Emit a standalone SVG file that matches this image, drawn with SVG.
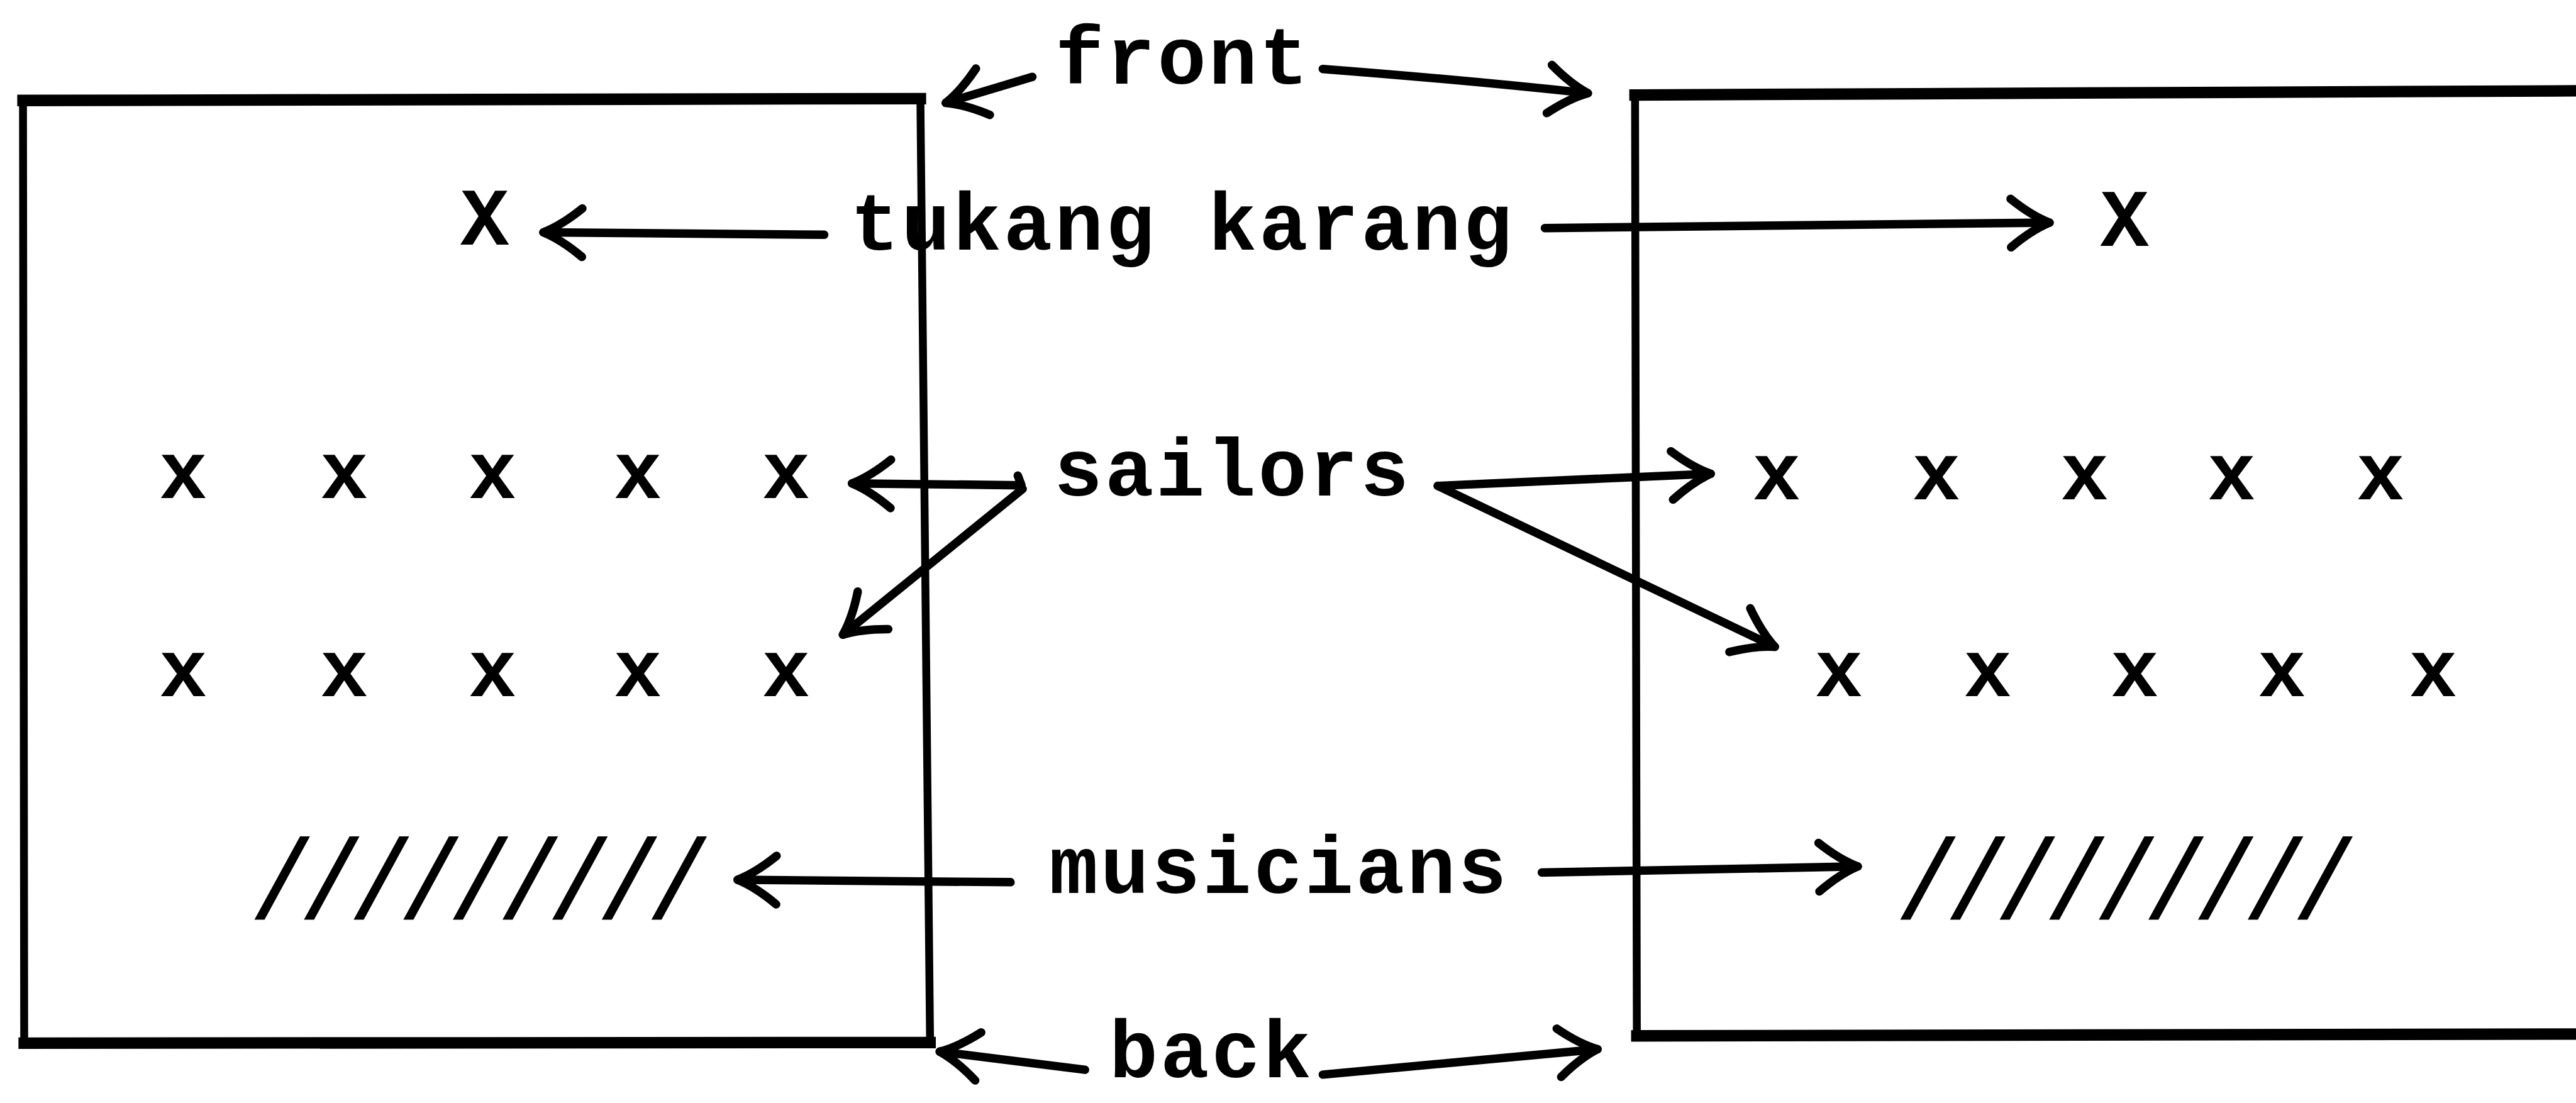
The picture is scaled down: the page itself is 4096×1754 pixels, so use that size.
<svg xmlns="http://www.w3.org/2000/svg" width="4096" height="1754" viewBox="0 0 4096 1754">
  <defs>
    <style>
      .wall{fill:none;stroke:#000;stroke-width:13;stroke-linecap:square;stroke-linejoin:miter}
      .rail{fill:none;stroke:#000;stroke-width:19;stroke-linecap:square}
      .arrow{fill:none;stroke:#000;stroke-width:14;stroke-linecap:round;stroke-linejoin:round;marker-end:url(#head)}
      .lbl{font-family:"Liberation Mono","DejaVu Sans Mono",monospace;font-size:134px;font-weight:bold;fill:#000;text-anchor:middle;letter-spacing:4px}
      .mark{font-family:"Liberation Mono","DejaVu Sans Mono",monospace;font-size:134px;font-weight:bold;fill:#000;text-anchor:middle}
      .hatch{font-family:"Liberation Mono","DejaVu Sans Mono",monospace;font-size:188px;fill:#000;text-anchor:middle;letter-spacing:-30.8px}
    </style>
    <marker id="head" markerUnits="userSpaceOnUse" markerWidth="200" markerHeight="200" refX="0" refY="0" orient="auto" overflow="visible">
      <path d="M-64 -40 Q-30 -12 0 0 Q-30 12 -64 40" fill="none" stroke="#000" stroke-width="14" stroke-linecap="round" stroke-linejoin="round"/>
    </marker>
  </defs>
  <rect x="0" y="0" width="4096" height="1754" fill="#fff"/>
  <g transform="scale(0.96218)">
    <!-- left boat / stage -->
    <g id="box-left">
      <path class="wall" d="M38 166 L1521 163 L1537 1723 L40 1724 Z"/>
      <path class="rail" d="M38 166 L1521 163 M1537 1723 L40 1724"/>
    </g>
    <!-- right boat / stage, open on the right -->
    <g id="box-right">
      <path class="wall" d="M4270 150 L2702 157 L2705 1712 L4270 1709"/>
      <path class="rail" d="M4270 150 L2702 157 M2705 1712 L4270 1709"/>
    </g>

    <g id="label-front"><text class="lbl" x="1955" y="138">front</text></g>
    <g id="label-tukang"><text class="lbl" x="1954" y="413">tukang karang</text></g>
    <g id="label-sailors"><text class="lbl" x="2037" y="819">sailors</text></g>
    <g id="label-musicians"><text class="lbl" x="2114" y="1476">musicians</text></g>
    <g id="label-back"><text class="lbl" x="2002" y="1780">back</text></g>

    <g id="tukang-left"><text class="mark" x="801" y="404">X</text></g>
    <g id="tukang-right"><text class="mark" x="3511" y="406">X</text></g>

    <g id="sailors-left">
      <text class="mark" x="303" y="823">x</text>
      <text class="mark" x="569" y="823">x</text>
      <text class="mark" x="814" y="823">x</text>
      <text class="mark" x="1054" y="823">x</text>
      <text class="mark" x="1299" y="823">x</text>
      <text class="mark" x="303" y="1151">x</text>
      <text class="mark" x="569" y="1151">x</text>
      <text class="mark" x="814" y="1151">x</text>
      <text class="mark" x="1054" y="1151">x</text>
      <text class="mark" x="1299" y="1151">x</text>
    </g>
    <g id="sailors-right">
      <text class="mark" x="2936" y="825">x</text>
      <text class="mark" x="3200" y="825">x</text>
      <text class="mark" x="3445" y="825">x</text>
      <text class="mark" x="3688" y="825">x</text>
      <text class="mark" x="3934" y="825">x</text>
      <text class="mark" x="3039" y="1151">x</text>
      <text class="mark" x="3285" y="1151">x</text>
      <text class="mark" x="3528" y="1151">x</text>
      <text class="mark" x="3771" y="1151">x</text>
      <text class="mark" x="4021" y="1151">x</text>
    </g>

    <g id="musicians-left"><text class="hatch" x="779" y="1518">/////////</text></g>
    <g id="musicians-right"><text class="hatch" x="3499" y="1518">/////////</text></g>

    <g id="connectors">
      <path class="arrow" d="M1706 127 L1563 170"/>
      <path class="arrow" d="M2186 114 Q2420 132 2624 154"/>
      <path class="arrow" d="M1362 388 L898 384"/>
      <path class="arrow" d="M2553 377 L3387 368"/>
      <path class="arrow" d="M1682 786 L1688 802 L1408 799"/>
      <path class="arrow" d="M1690 808 L1393 1049"/>
      <path class="arrow" d="M2376 803 L2827 783"/>
      <path class="arrow" d="M2376 803 L2933 1069"/>
      <path class="arrow" d="M1670 1458 L1219 1454"/>
      <path class="arrow" d="M2548 1442 L3070 1432"/>
      <path class="arrow" d="M1793 1768 L1553 1738"/>
      <path class="arrow" d="M2186 1776 L2640 1734"/>
    </g>
  </g>
</svg>
